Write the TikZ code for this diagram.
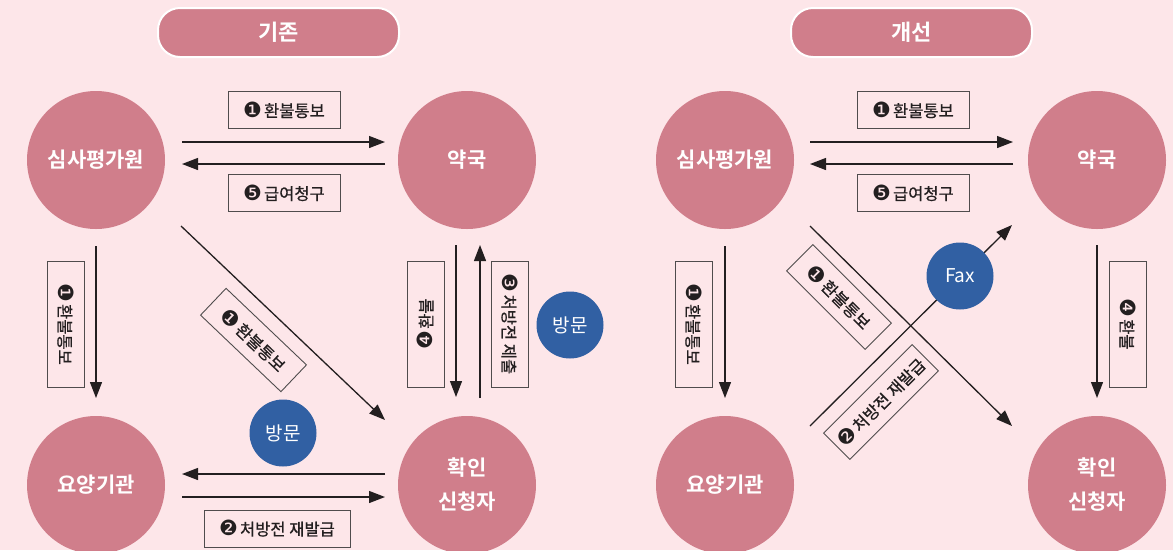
\documentclass[tikz,border=0pt]{standalone}
\usepackage{fontspec}
\setmainfont{Noto Sans CJK KR}[BoldFont=* Bold]
\newfontfamily\lblfont{Noto Sans CJK KR}[FakeBold=0.7]
\newfontfamily\dingfont{DejaVu Sans}
\usetikzlibrary{arrows.meta}
\definecolor{bgpink}{HTML}{FDE6E9}
\definecolor{rosec}{HTML}{D07E8B}
\definecolor{bluec}{HTML}{3160A3}
\definecolor{inkc}{HTML}{231F20}
\newcommand{\dg}[1]{\raisebox{-0.5pt}{\dingfont\fontsize{21pt}{21pt}\selectfont #1}\hspace{2pt}}
\tikzset{
  bigc/.style={circle, fill=rosec, minimum size=138pt, inner sep=0pt, text=white, font=\fontsize{21pt}{34pt}\selectfont\bfseries, align=center},
  bluecirc/.style={circle, fill=bluec, minimum size=67pt, inner sep=0pt, text=white, font=\fontsize{19pt}{20pt}\selectfont},
  pill/.style={rounded corners=22pt, fill=rosec, draw=white, line width=2pt, minimum width=241pt, minimum height=49pt, inner sep=0pt, text=white, font=\fontsize{22pt}{24pt}\selectfont\bfseries},
  lbl/.style={draw=inkc!80, line width=0.9pt, text=inkc, font=\lblfont\fontsize{16.5pt}{18pt}\selectfont, inner sep=0pt, minimum height=37pt},
  arr/.style={draw=inkc, line width=1.3pt, -{Triangle[length=16pt, width=12pt]}},
}
\begin{document}
\begin{tikzpicture}[x=1pt,y=-1pt]
\fill[bgpink] (0,0) rectangle (1173,550);
\useasboundingbox (0,0) rectangle (1173,550);

% ---------- left panel ----------
\node[pill] (tL) at (278.5,32.5) {기존};
\node[bigc] (simL) at (96,160) {심사평가원};
\node[bigc] (yakL) at (467,160) {약국};
\node[bigc] (yoL) at (96,485) {요양기관};
\node[bigc] (hwL) at (467,485) {확인\\신청자};

\coordinate (l1a) at (182,142); \coordinate (l1b) at (385,142);
\coordinate (l5a) at (385,164); \coordinate (l5b) at (182,164);
\draw[arr] (l1a) -- (l1b);
\draw[arr] (l5a) -- (l5b);
\node[lbl, minimum width=112pt] (lb1L) at (284,110) {\dg{❶}환불통보};
\node[lbl, minimum width=112pt] (lb5L) at (284,193) {\dg{❺}급여청구};

\coordinate (lva) at (96,246); \coordinate (lvb) at (96,398);
\draw[arr] (lva) -- (lvb);
\node[lbl, minimum width=126pt, rotate=-90] (lbvL) at (65.5,324) {\dg{❶}환불통보};

\coordinate (m4a) at (456,245); \coordinate (m4b) at (456,397);
\coordinate (m3a) at (480,398); \coordinate (m3b) at (480,245);
\draw[arr] (m4a) -- (m4b);
\draw[arr] (m3a) -- (m3b);
\node[lbl, minimum width=126pt, rotate=90] (lb4L) at (425.5,324) {\dg{❹}환불};
\node[lbl, minimum width=126pt, rotate=-90] (lb3L) at (509.5,324) {\dg{❸}처방전 제출};

\coordinate (dga) at (181,226); \coordinate (dgb) at (385,420);
\draw[arr] (dga) -- (dgb);
\node[lbl, minimum width=111pt, rotate=-43.6] (lbdL) at (253.5,340) {\dg{❶}환불통보};

\coordinate (b1a) at (385,474); \coordinate (b1b) at (182,474);
\coordinate (b2a) at (182,497); \coordinate (b2b) at (385,497);
\draw[arr] (b1a) -- (b1b);
\draw[arr] (b2a) -- (b2b);
\node[lbl, minimum width=146pt] (lb2L) at (277,528.5) {\dg{❷}처방전 재발급};

\node[bluecirc] (v1) at (570,325) {방문};
\node[bluecirc] (v2) at (283,433) {방문};

% ---------- right panel ----------
\node[pill] (tR) at (911.5,32.5) {개선};
\node[bigc] (simR) at (725,160) {심사평가원};
\node[bigc] (yakR) at (1097,160) {약국};
\node[bigc] (yoR) at (725,485) {요양기관};
\node[bigc] (hwR) at (1097,485) {확인\\신청자};

\coordinate (r1a) at (810,142); \coordinate (r1b) at (1013,142);
\coordinate (r5a) at (1013,164); \coordinate (r5b) at (810,164);
\draw[arr] (r1a) -- (r1b);
\draw[arr] (r5a) -- (r5b);
\node[lbl, minimum width=112pt] (lb1R) at (913,110) {\dg{❶}환불통보};
\node[lbl, minimum width=112pt] (lb5R) at (913,193) {\dg{❺}급여청구};

\coordinate (rva) at (725,246); \coordinate (rvb) at (725,398);
\draw[arr] (rva) -- (rvb);
\node[lbl, minimum width=126pt, rotate=-90] (lbvR) at (693.5,324) {\dg{❶}환불통보};

\coordinate (r4a) at (1097,245); \coordinate (r4b) at (1097,398);
\draw[arr] (r4a) -- (r4b);
\node[lbl, minimum width=126pt, rotate=-90] (lb4R) at (1127.5,324) {\dg{❹}환불};

\coordinate (rda) at (810,226); \coordinate (rdb) at (1012,426);
\coordinate (rua) at (810,426); \coordinate (rub) at (1012,225);
\draw[arr] (rda) -- (rdb);
\draw[arr] (rua) -- (rub);
\node[lbl, minimum width=111pt, rotate=-45] (lbdR) at (839,297) {\dg{❶}환불통보};
\node[lbl, minimum width=125pt, rotate=45] (lbuR) at (881,402) {\dg{❷}처방전 재발급};

\node[bluecirc] (fax) at (960,276) {Fax};
\end{tikzpicture}
\end{document}
